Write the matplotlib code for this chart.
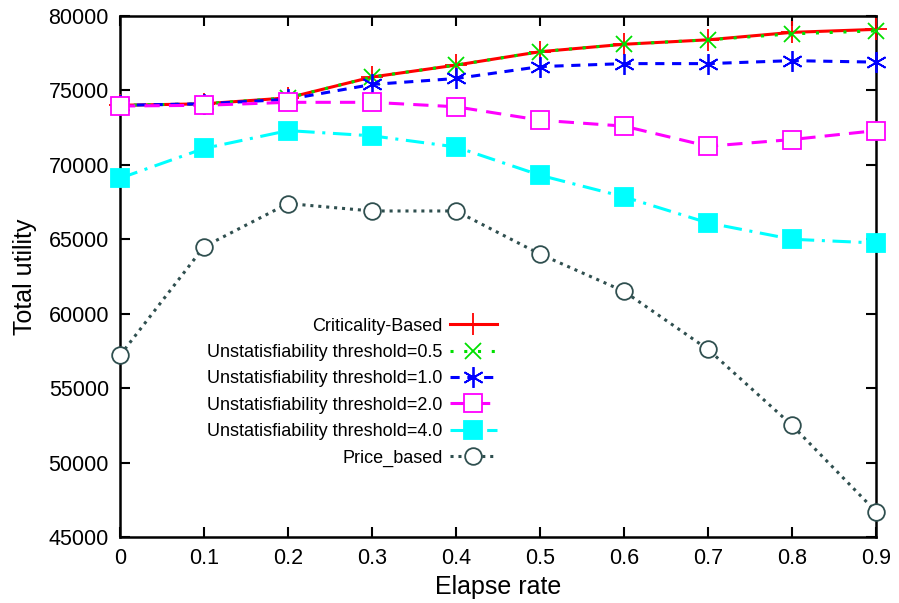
import numpy as np
import matplotlib.pyplot as plt
import matplotlib
from matplotlib.ticker import MultipleLocator

matplotlib.rcParams["font.family"] = ["Liberation Sans", "DejaVu Sans"]

elapse_rate = [0.0, 0.1, 0.2, 0.3, 0.4, 0.5, 0.6, 0.7, 0.8, 0.9]

criticality = [74000, 74100, 74500, 75900, 76700, 77600, 78100, 78400, 78900, 79100]
thr_05 = [74000, 74100, 74500, 75900, 76700, 77600, 78100, 78400, 78800, 79000]
thr_10 = [74000, 74100, 74400, 75400, 75800, 76600, 76800, 76800, 77000, 76900]
thr_20 = [73950, 74000, 74200, 74200, 73900, 73000, 72600, 71250, 71700, 72300]
thr_40 = [69100, 71100, 72300, 71950, 71200, 69300, 67850, 66100, 65000, 64750]
price_based = [57200, 64500, 67400, 66900, 66900, 64000, 61500, 57600, 52500, 46700]

fig = plt.figure(figsize=(8.99, 6.03), dpi=100)
ax = fig.add_axes([0.1335, 0.1095, 0.841, 0.864])

# (values, label, colour, linestyle, marker, markersize, face colour)
series = [
    (criticality, "Criticality-Based", "#ff0000", "-", "+", 16, "#ff0000"),
    (thr_05, "Unstatisfiability threshold=0.5", "#00e000", (0, (1, 3.5)), "x", 11, "#00e000"),
    (thr_10, "Unstatisfiability threshold=1.0", "#0000ff", (0, (3, 2.5)), (6, 2, 0), 15, "#0000ff"),
    (thr_20, "Unstatisfiability threshold=2.0", "#ff00ff", (0, (5, 3)), "s", 12.5, "white"),
    (thr_40, "Unstatisfiability threshold=4.0", "#00ffff", (0, (6, 2.5, 1, 2.5)), "s", 12.5, "#00ffff"),
    (price_based, "Price_based", "#2f4f4f", (0, (1, 1.6)), "o", 12, "white"),
]

for vals, label, color, ls, marker, ms, mfc in series:
    ax.plot(elapse_rate, vals, color=color, linestyle=ls, linewidth=2.2,
            marker=marker, markersize=ms, markeredgecolor=color,
            markerfacecolor=mfc, markeredgewidth=1.3,
            label=label, clip_on=False, zorder=3)

ax.set_xlim(0, 0.9)
ax.set_ylim(45000, 80000)
ax.yaxis.set_major_locator(MultipleLocator(5000))
ax.set_xticks(elapse_rate)
ax.set_xticklabels(["0", "0.1", "0.2", "0.3", "0.4", "0.5", "0.6", "0.7", "0.8", "0.9"])

ax.tick_params(direction="in", length=7, width=1.5, top=True, right=True,
               labelsize=15.5, pad=8)
for sp in ax.spines.values():
    sp.set_linewidth(1.8)

ax.set_xlabel("Elapse rate", fontsize=18, labelpad=4)
ax.set_ylabel("Total utility", fontsize=18, labelpad=8)

ax.legend(loc="center right", bbox_to_anchor=(0.52, 0.278), frameon=False,
          markerfirst=False, fontsize=13, handlelength=2.6, labelspacing=0.52,
          handletextpad=0.4, markerscale=1.0)

fig.savefig("out.png", dpi=100)
